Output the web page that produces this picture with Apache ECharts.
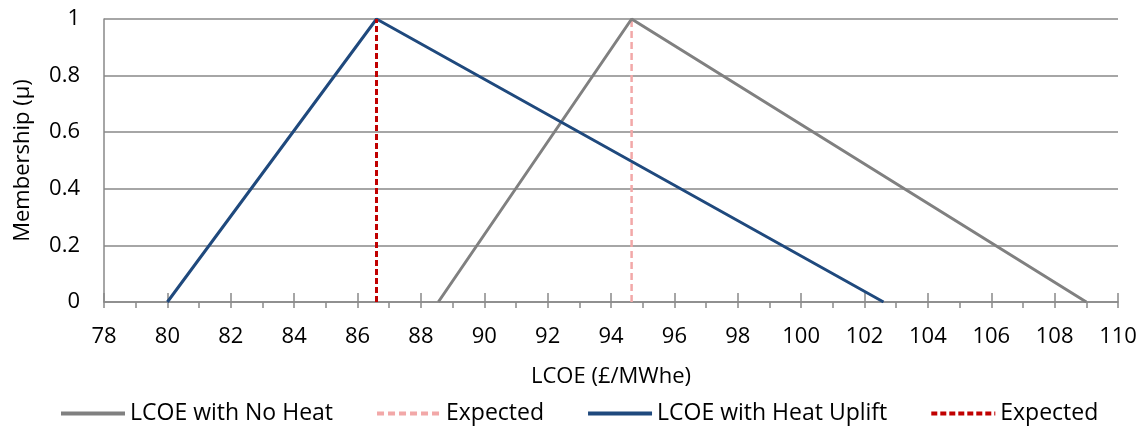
<!DOCTYPE html>
<html>
<head>
<meta charset="utf-8">
<script src="https://cdn.jsdelivr.net/npm/echarts@6/dist/echarts.min.js"></script>
<style>html,body{margin:0;padding:0;background:#fff}#c{width:1145px;height:430px}</style>
</head>
<body>
<div id="c"></div>
<script>
const seriesNames = ['LCOE with No Heat', 'Expected', 'LCOE with Heat Uplift', 'Expected '];
const noHeatX = [88.55, 94.65, 109];
const noHeatY = [0, 1, 0];
const noHeatExpectedX = [94.65, 94.65];
const noHeatExpectedY = [0, 1];
const upliftX = [80, 86.6, 102.6];
const upliftY = [0, 1, 0];
const upliftExpectedX = [86.6, 86.6];
const upliftExpectedY = [0, 1];
const xTicks = [78, 80, 82, 84, 86, 88, 90, 92, 94, 96, 98, 100, 102, 104, 106, 108, 110];
const yTicks = [0, 0.2, 0.4, 0.6, 0.8, 1];

const pair = (xs, ys) => xs.map((x, i) => [x, ys[i]]);
const FONT = 'Open Sans';
const FS = 22;
const axisGrey = '#898989';

const chart = echarts.init(document.getElementById('c'), null, {renderer: 'canvas'});
chart.setOption({
  animation: false,
  textStyle: {fontFamily: FONT},
  grid: {left: 104, right: 27, top: 19, bottom: 128},
  legend: {
    bottom: 0, left: 54,
    itemWidth: 64, itemHeight: 14, itemGap: 42,
    itemStyle: {opacity: 0},
    lineStyle: {width: 4},
    textStyle: {fontFamily: FONT, fontSize: 23, color: '#000'},
    data: seriesNames
  },
  xAxis: [{
    type: 'value', min: xTicks[0], max: xTicks[xTicks.length - 1], interval: 2,
    name: 'LCOE (£/MWhe)', nameLocation: 'middle', nameGap: 64,
    nameTextStyle: {fontFamily: FONT, fontSize: FS, color: '#000'},
    axisLine: {show: true, onZero: false, lineStyle: {color: axisGrey, width: 1.5}},
    axisTick: {show: true, inside: false, length: 6, lineStyle: {color: axisGrey, width: 1.5}},
    minorTick: {show: true, splitNumber: 2, length: 6, lineStyle: {color: axisGrey, width: 1.5}},
    axisLabel: {fontFamily: FONT, fontSize: FS, color: '#000', margin: 24},
    splitLine: {show: false}
  }, {
    type: 'value', position: 'bottom', min: xTicks[0], max: xTicks[xTicks.length - 1], interval: 2,
    axisLine: {show: false, onZero: false},
    axisTick: {show: true, inside: true, length: 9, lineStyle: {color: axisGrey, width: 1.5}},
    axisLabel: {show: false},
    splitLine: {show: false}
  }],
  yAxis: {
    type: 'value', min: 0, max: 1, interval: 0.2,
    name: 'Membership (μ)', nameLocation: 'middle', nameGap: 70,
    nameTextStyle: {fontFamily: FONT, fontSize: FS, color: '#000'},
    axisLine: {show: true, lineStyle: {color: axisGrey, width: 1.5}},
    axisTick: {show: false},
    axisLabel: {fontFamily: FONT, fontSize: FS, color: '#000', margin: 24,
      formatter: v => String(Math.round(v * 10) / 10)},
    splitLine: {show: true, lineStyle: {color: axisGrey, width: 1.5}}
  },
  series: [
    {name: seriesNames[0], type: 'line', symbol: 'none', data: pair(noHeatX, noHeatY),
     lineStyle: {color: '#808080', width: 3}, itemStyle: {color: '#808080'}, z: 3},
    {name: seriesNames[1], type: 'line', symbol: 'none', data: pair(noHeatExpectedX, noHeatExpectedY),
     lineStyle: {color: '#F2A8A8', width: 2.5, type: [7, 4]}, itemStyle: {color: '#F2A8A8'}, z: 2},
    {name: seriesNames[2], type: 'line', symbol: 'none', data: pair(upliftX, upliftY),
     lineStyle: {color: '#1F497D', width: 3}, itemStyle: {color: '#1F497D'}, z: 3},
    {name: seriesNames[3], type: 'line', symbol: 'none', data: pair(upliftExpectedX, upliftExpectedY),
     lineStyle: {color: '#C00000', width: 3, type: [6, 3]}, itemStyle: {color: '#C00000'}, z: 4}
  ]
});
</script>
</body>
</html>
